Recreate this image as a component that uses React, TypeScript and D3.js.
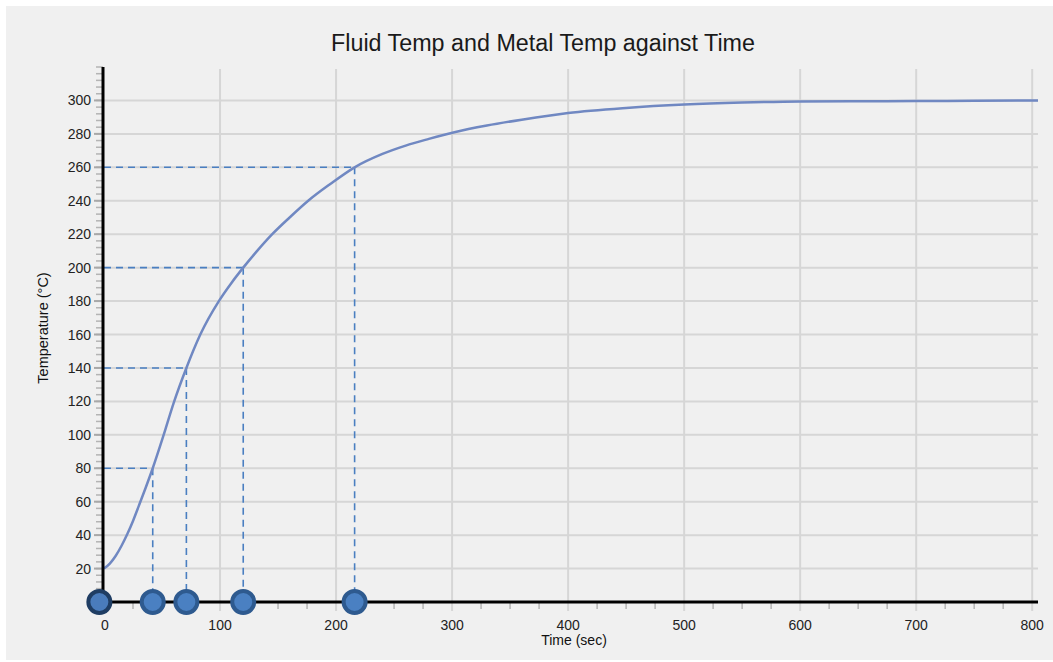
import React, { useEffect, useRef } from 'react'
import * as d3 from 'd3'

// curve (time sec, temp °C)
const times = [0, 5, 10, 15, 20, 25, 30, 36, 42, 51, 60, 71, 83, 99, 110, 120, 132, 145, 160, 176, 195, 216, 240, 260, 280, 302, 330, 360, 400, 450, 500, 550, 600, 650, 700, 750, 800, 805]
const temps = [20, 23, 27.5, 33.5, 40.5, 48.5, 57.5, 68.5, 80, 99, 119, 140, 160, 180, 191, 200, 210, 220, 230, 240, 250, 260, 268, 273, 277, 281, 285, 288.5, 292.5, 295.5, 297.5, 298.7, 299.4, 299.5, 299.6, 299.8, 300, 300]

// markers on the time axis and the temps they point at
const markerTimes = [42, 71, 120, 216]
const markerTemps = [80, 140, 200, 260]
const startMarker = -4

const xTicks = [0, 100, 200, 300, 400, 500, 600, 700, 800]
const yTicks = [20, 40, 60, 80, 100, 120, 140, 160, 180, 200, 220, 240, 260, 280, 300]

const W = 1053
const H = 662

const App = () => {
  const svgRef = useRef(null)

  useEffect(() => {
    const svg = d3.select(svgRef.current)
    svg.selectAll('*').remove()

    const x = d3.scaleLinear().domain([0, 805]).range([104, 1038])
    const y = d3.scaleLinear().domain([0, 320]).range([602, 67])
    const font = "'Liberation Sans', Arial, sans-serif"

    // panel
    svg.append('rect').attr('x', 6).attr('y', 6).attr('width', W - 6).attr('height', 654).attr('fill', '#f0f0f0')

    // title
    svg.append('text')
      .attr('x', 543).attr('y', 51)
      .attr('text-anchor', 'middle')
      .style('font-family', font).style('font-size', '23.3px')
      .attr('fill', '#1a1a1a')
      .text('Fluid Temp and Metal Temp against Time')

    // grid
    svg.append('g').selectAll('line')
      .data(yTicks)
      .join('line')
      .attr('x1', x(0)).attr('x2', x(805))
      .attr('y1', (d) => y(d)).attr('y2', (d) => y(d))
      .attr('stroke', '#d6d6d6').attr('stroke-width', 2)

    svg.append('g').selectAll('line')
      .data(xTicks.filter((d) => d > 0))
      .join('line')
      .attr('x1', (d) => x(d)).attr('x2', (d) => x(d))
      .attr('y1', 69).attr('y2', y(0) + 9)
      .attr('stroke', '#d6d6d6').attr('stroke-width', 2)

    // minor ticks, y every 4, x every 25
    svg.append('g').selectAll('line')
      .data(d3.range(0, 321, 4))
      .join('line')
      .attr('x1', 96).attr('x2', 103)
      .attr('y1', (d) => y(d)).attr('y2', (d) => y(d))
      .attr('stroke', '#b4b4b4').attr('stroke-width', 1.5)

    svg.append('g').selectAll('line')
      .data(yTicks)
      .join('line')
      .attr('x1', 94).attr('x2', 103)
      .attr('y1', (d) => y(d)).attr('y2', (d) => y(d))
      .attr('stroke', '#a8a8a8').attr('stroke-width', 2)

    svg.append('g').selectAll('line')
      .data(d3.range(25, 801, 25).filter((d) => d % 100 !== 0))
      .join('line')
      .attr('x1', (d) => x(d)).attr('x2', (d) => x(d))
      .attr('y1', y(0)).attr('y2', y(0) + 7)
      .attr('stroke', '#b4b4b4').attr('stroke-width', 1.5)

    // tick labels
    svg.append('g').selectAll('text')
      .data(yTicks)
      .join('text')
      .attr('x', 91).attr('y', (d) => y(d) + 5)
      .attr('text-anchor', 'end')
      .style('font-family', font).style('font-size', '14px')
      .attr('fill', '#222')
      .text((d) => d)

    svg.append('g').selectAll('text')
      .data(xTicks)
      .join('text')
      .attr('x', (d) => x(d) + (d === 0 ? 1 : 0)).attr('y', 630)
      .attr('text-anchor', 'middle')
      .style('font-family', font).style('font-size', '14px')
      .attr('fill', '#222')
      .text((d) => d)

    // axis titles
    svg.append('text')
      .attr('x', 574).attr('y', 645)
      .attr('text-anchor', 'middle')
      .style('font-family', font).style('font-size', '14px')
      .attr('fill', '#111')
      .text('Time (sec)')

    svg.append('text')
      .attr('transform', 'translate(48,328) rotate(-90)')
      .attr('text-anchor', 'middle')
      .style('font-family', font).style('font-size', '14.5px')
      .attr('fill', '#111')
      .text('Temperature (°C)')

    // dashed guides
    const guides = svg.append('g')
      .attr('stroke', '#4a7fc1').attr('stroke-width', 1.6)
      .attr('stroke-dasharray', '7,5').attr('fill', 'none')
    guides.selectAll('.h')
      .data(markerTimes)
      .join('line')
      .attr('class', 'h')
      .attr('x1', x(0)).attr('x2', (d) => x(d))
      .attr('y1', (d, i) => y(markerTemps[i])).attr('y2', (d, i) => y(markerTemps[i]))
    guides.selectAll('.v')
      .data(markerTimes)
      .join('line')
      .attr('class', 'v')
      .attr('x1', (d) => x(d)).attr('x2', (d) => x(d))
      .attr('y1', (d, i) => y(markerTemps[i])).attr('y2', y(0) - 12)

    // curve
    const line = d3.line<number>()
      .x((d, i) => x(times[i]))
      .y((d) => y(d))
      .curve(d3.curveMonotoneX)
    svg.append('path')
      .datum(temps)
      .attr('d', line)
      .attr('fill', 'none')
      .attr('stroke', '#7088c2')
      .attr('stroke-width', 2.5)

    // axes
    svg.append('line')
      .attr('x1', x(0) - 1).attr('x2', x(0) - 1)
      .attr('y1', 67).attr('y2', y(0))
      .attr('stroke', '#000').attr('stroke-width', 3)
    svg.append('line')
      .attr('x1', x(0) - 2).attr('x2', x(805))
      .attr('y1', y(0)).attr('y2', y(0))
      .attr('stroke', '#000').attr('stroke-width', 3)

    // markers
    svg.append('circle')
      .attr('cx', x(startMarker)).attr('cy', y(0)).attr('r', 11)
      .attr('fill', '#4a7cbc').attr('stroke', '#1f3d63').attr('stroke-width', 4)
    svg.append('g').selectAll('circle')
      .data(markerTimes)
      .join('circle')
      .attr('cx', (d) => x(d)).attr('cy', y(0)).attr('r', 11)
      .attr('fill', '#4a80c2').attr('stroke', '#2e5a8f').attr('stroke-width', 4)
  }, [])

  return (
    <svg ref={svgRef} width={W} height={H} style={{ position: 'fixed', left: 0, top: 0, background: '#fff' }} />
  )
}

export default App
